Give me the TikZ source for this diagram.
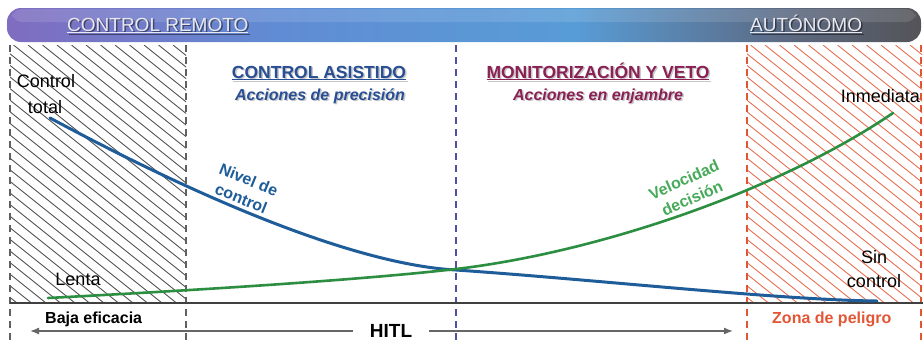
\documentclass[tikz,border=0pt]{standalone}
\usepackage{fontspec}
\setmainfont{Liberation Sans}
\usetikzlibrary{arrows.meta}
\definecolor{cpurp}{RGB}{128,108,192}
\definecolor{cblu1}{RGB}{96,140,212}
\definecolor{cblu2}{RGB}{88,156,214}
\definecolor{cgry1}{RGB}{92,104,128}
\definecolor{cgry2}{RGB}{84,84,88}
\definecolor{tblue}{RGB}{40,78,148}
\definecolor{tmaroon}{RGB}{138,32,84}
\definecolor{cvblue}{RGB}{30,92,154}
\definecolor{cvgreen}{RGB}{44,142,64}
\definecolor{lgreen}{RGB}{70,170,90}
\definecolor{dred}{RGB}{226,86,52}
\definecolor{hatchgray}{RGB}{70,70,70}
\definecolor{hatchred}{RGB}{230,100,70}
\definecolor{dashmid}{RGB}{80,80,160}
\definecolor{headtxt}{RGB}{232,232,240}
\pgfdeclarehorizontalshading{barshade}{100bp}{color(0bp)=(cpurp); color(25bp)=(cpurp); color(40bp)=(cblu1); color(56bp)=(cblu2); color(68bp)=(cgry1); color(75bp)=(cgry2); color(100bp)=(cgry2)}
\begin{document}
\begin{tikzpicture}[x=1pt,y=-1pt,
  lbl/.style={font=\fontsize{18}{20}\selectfont, inner sep=0pt, text=black},
  ttl/.style={font=\bfseries\fontsize{17.5}{20}\selectfont, inner sep=0pt},
  subt/.style={font=\bfseries\itshape\fontsize{16}{18}\selectfont, inner sep=0pt},
  headt/.style={font=\fontsize{19}{20}\selectfont, inner sep=0pt, text=headtxt},
  shadowt/.style={text=black, text opacity=0.22},
  bot/.style={font=\bfseries\fontsize{16}{18}\selectfont, inner sep=0pt},
  curvlbl/.style={font=\bfseries\fontsize{16}{20}\selectfont, inner sep=0pt, align=center},
  vdash/.style={line width=1.4pt, dash pattern=on 7pt off 5pt},
  hitlarrow/.style={line width=1.4pt, draw=gray!80!black, -{Latex[length=9pt,width=7pt]}},
]
\useasboundingbox (0,0) rectangle (923,341);
\fill[white] (0,0) rectangle (923,341);

% header bar
\shade[shading=barshade, rounded corners=14pt] (7,8) rectangle (921,42);
\fill[white, opacity=0.12, rounded corners=10pt] (12,9) rectangle (916,22);

% hatched zones
\begin{scope}
  \clip (10,45) rectangle (186,303);
  \foreach \k in {0,...,45} \draw[hatchgray, line width=0.8pt] ({-320+14.5*\k},45) -- ++(400,320);
\end{scope}
\begin{scope}
  \clip (747,45) rectangle (922,303);
  \foreach \k in {0,...,45} \draw[hatchred, line width=0.8pt] ({417+14.5*\k},45) -- ++(400,320);
\end{scope}

% vertical dashed separators
\draw[vdash, gray!75!black] (10,45) -- (10,341);
\draw[vdash, gray!75!black] (186,45) -- (186,341);
\draw[vdash, dashmid] (456,45) -- (456,341);
\draw[vdash, dred] (747,45) -- (747,341);
\draw[vdash, dred] (921,45) -- (921,341);

% baseline
\draw[line width=1.5pt, black!75] (10,303) -- (923,303);

% header texts
\node[headt, shadowt, text opacity=0.45, anchor=base west] at (68.5,32.5) {\underline{CONTROL REMOTO}};
\node[headt, anchor=base west] (remoto) at (67,31) {\underline{CONTROL REMOTO}};
\node[headt, shadowt, text opacity=0.45, anchor=base west] at (751.5,32.5) {\underline{AUTÓNOMO}};
\node[headt, anchor=base west] (auto) at (750,31) {\underline{AUTÓNOMO}};

% section titles
\node[ttl, shadowt, anchor=base] at (320.5,79.5) {\underline{CONTROL ASISTIDO}};
\node[ttl, text=tblue, anchor=base] (asist) at (319,78) {\underline{CONTROL ASISTIDO}};
\node[subt, shadowt, anchor=base] at (321.5,101.5) {Acciones de precisión};
\node[subt, text=tblue, anchor=base] (prec) at (320,100) {Acciones de precisión};
\node[ttl, shadowt, anchor=base] at (599.5,79.5) {\underline{MONITORIZACIÓN Y VETO}};
\node[ttl, text=tmaroon, anchor=base] (monit) at (598,78) {\underline{MONITORIZACIÓN Y VETO}};
\node[subt, shadowt, anchor=base] at (599.5,101.5) {Acciones en enjambre};
\node[subt, text=tmaroon, anchor=base] (enj) at (598,100) {Acciones en enjambre};

% curves
\coordinate (bstart) at (50,118);
\coordinate (cross) at (456,270);
\coordinate (bend) at (877,301);
\coordinate (gstart) at (48,298);
\coordinate (gcross) at (456,269);
\coordinate (gend) at (893,113);
\draw[cvblue, line width=3pt, line cap=round]
  (bstart) .. controls (250,225) and (380,266) .. (cross)
           .. controls (600,280) and (780,300) .. (bend);
\draw[cvgreen, line width=2.6pt, line cap=round]
  (gstart) .. controls (200,290) and (360,280) .. (gcross)
           .. controls (600,252) and (780,190) .. (gend);

% curve labels
\node[curvlbl, text=cvblue, rotate=-22] (nivel) at (245,189) {Nivel de\\control};
\node[curvlbl, text=lgreen, rotate=24] (veloc) at (688,189) {Velocidad\\decisión};

% end labels
\node[lbl, anchor=base] (ctl1) at (46,87) {Control};
\node[lbl, anchor=base] (ctl2) at (45,113) {total};
\node[lbl, anchor=base east] (inmed) at (920,102) {Inmediata};
\node[lbl, anchor=base] (lenta) at (78,285) {Lenta};
\node[lbl, anchor=base] (sin1) at (874,263) {Sin};
\node[lbl, anchor=base] (sin2) at (874,287) {control};

% bottom
\node[bot, anchor=base west] (baja) at (45,323) {Baja eficacia};
\node[bot, text=dred, anchor=base west] (zona) at (772,323) {Zona de peligro};
\node[font=\bfseries\fontsize{19}{20}\selectfont, inner sep=0pt, anchor=base] (hitl) at (391,337) {HITL};
\coordinate (hl) at (30,331);
\coordinate (hr) at (733,331);
\draw[hitlarrow] (hitl.west |- hl) ++(-17,0) -- (hl);
\draw[hitlarrow] (hitl.east |- hr) ++(17,0) -- (hr);
\end{tikzpicture}
\end{document}
